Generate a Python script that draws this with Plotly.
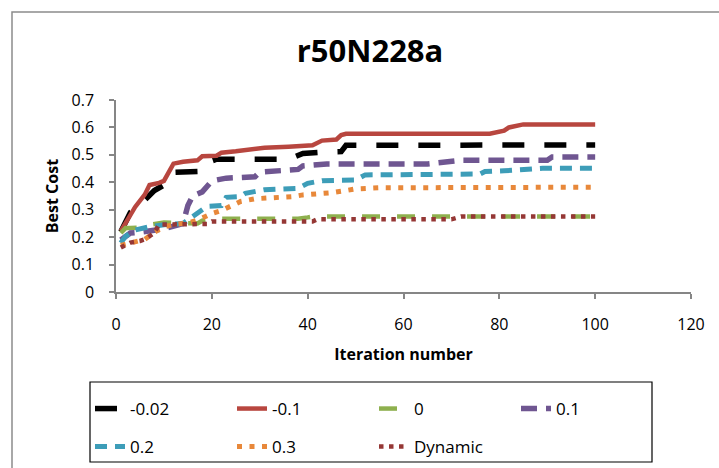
import plotly.graph_objects as go

# ---------------- data ----------------
x_m002 = [1, 2, 3, 5, 6, 8, 9, 10, 11, 12, 17, 18, 20, 21, 36, 38, 39, 43, 47, 48, 100]
y_m002 = [0.22, 0.26, 0.29, 0.31, 0.335, 0.37, 0.38, 0.39, 0.40, 0.436, 0.436, 0.44, 0.478,
          0.484, 0.484, 0.5, 0.505, 0.51, 0.512, 0.535, 0.536]

x_m01 = [1, 3, 4, 6, 7, 9, 10, 12, 14, 17, 18, 21, 22, 25, 28, 31, 36, 41, 43, 46, 47, 48,
         78, 80, 81, 82, 84, 85, 100]
y_m01 = [0.222, 0.285, 0.31, 0.355, 0.39, 0.398, 0.405, 0.468, 0.475, 0.48, 0.495, 0.497,
         0.508, 0.513, 0.52, 0.526, 0.53, 0.535, 0.552, 0.556, 0.572, 0.577, 0.577, 0.583,
         0.588, 0.6, 0.605, 0.611, 0.611]

x_0 = [1, 2, 3, 5, 7, 9, 10, 17, 18, 20, 38, 40, 41, 100]
y_0 = [0.215, 0.233, 0.233, 0.235, 0.245, 0.253, 0.253, 0.25, 0.26, 0.267, 0.267, 0.272,
       0.275, 0.275]

x_01 = [1, 2, 3, 5, 8, 10, 13, 14, 15, 16, 18, 20, 23, 25, 29, 30, 34, 38, 39, 43, 44, 65,
        68, 72, 90, 91, 100]
y_01 = [0.19, 0.2, 0.215, 0.218, 0.225, 0.23, 0.245, 0.25, 0.315, 0.35, 0.365, 0.405, 0.415,
        0.418, 0.42, 0.437, 0.44, 0.447, 0.46, 0.464, 0.467, 0.467, 0.472, 0.48, 0.48,
        0.492, 0.492]

x_02 = [1, 2, 4, 7, 10, 14, 16, 18, 19, 22, 23, 26, 27, 31, 34, 38, 40, 43, 50, 52, 76, 77,
        81, 85, 89, 100]
y_02 = [0.179, 0.203, 0.226, 0.238, 0.245, 0.25, 0.275, 0.30, 0.312, 0.315, 0.345, 0.348,
        0.36, 0.373, 0.377, 0.378, 0.396, 0.406, 0.408, 0.427, 0.43, 0.439, 0.442, 0.448,
        0.451, 0.451]

x_03 = [1, 3, 6, 8, 10, 12, 15, 17, 20, 22, 24, 26, 29, 32, 34, 37, 39, 42, 45, 48, 50, 55,
        100]
y_03 = [0.17, 0.18, 0.192, 0.218, 0.237, 0.246, 0.252, 0.262, 0.286, 0.297, 0.315, 0.33,
        0.34, 0.342, 0.345, 0.348, 0.354, 0.357, 0.362, 0.37, 0.376, 0.38, 0.382]

x_dyn = [1, 3, 5, 6, 8, 9, 19, 20, 41, 42, 70, 72, 100]
y_dyn = [0.162, 0.18, 0.186, 0.192, 0.216, 0.246, 0.248, 0.257, 0.257, 0.265, 0.265, 0.275,
         0.275]

series_names = ["-0.02", "-0.1", "0", "0.1", "0.2", "0.3", "Dynamic"]
x_ticks = [0, 20, 40, 60, 80, 100, 120]
y_ticks = [0, 0.1, 0.2, 0.3, 0.4, 0.5, 0.6, 0.7]

# ---------------- layout geometry (pixels) ----------------
W, H = 719, 468
L, R, T, B = 116, 28, 100, 176
PW, PH = W - L - R, H - T - B


def px_x(p):
    return (p - L) / PW


def px_y(p):
    return (H - B - p) / PH


FONT = "Open Sans"

styles = [
    dict(color="#000000", width=5.5, dash="22px,20px"),
    dict(color="#B8463F", width=4.5, dash="solid"),
    dict(color="#8EB04E", width=4.5, dash="18px,17px"),
    dict(color="#6F5691", width=5.5, dash="16px,9px"),
    dict(color="#3D9DB8", width=5, dash="12px,8px"),
    dict(color="#E8883A", width=5, dash="5px,7.5px"),
    dict(color="#953735", width=4.5, dash="4.5px,5.5px"),
]
xs = [x_m002, x_m01, x_0, x_01, x_02, x_03, x_dyn]
ys = [y_m002, y_m01, y_0, y_01, y_02, y_03, y_dyn]
legend_ids = ["legend", "legend", "legend", "legend", "legend2", "legend2", "legend2"]

fig = go.Figure()
for name, xv, yv, st, lg in zip(series_names, xs, ys, styles, legend_ids):
    fig.add_trace(go.Scatter(x=xv, y=yv, name=name, mode="lines", line=st, legend=lg))

axis_line = "#868686"
legend_common = dict(orientation="h", xref="container", x=90 / W, xanchor="left",
                     yref="container", yanchor="middle",
                     entrywidth=97, entrywidthmode="pixels", bgcolor="rgba(0,0,0,0)",
                     borderwidth=0, font=dict(family=FONT, size=17), itemwidth=30)
fig.update_layout(
    width=W, height=H,
    margin=dict(l=L, r=R, t=T, b=B, autoexpand=False),
    paper_bgcolor="white", plot_bgcolor="white",
    font=dict(family=FONT, size=16, color="#000000"),
    title=dict(text="<b>r50N228a</b>", font=dict(family=FONT, size=31, color="#000000"),
               xref="container", x=370 / W, xanchor="center",
               yref="container", y=1 - 51 / H, yanchor="middle"),
    xaxis=dict(range=[0, 120], tickvals=x_ticks, showgrid=False, zeroline=False,
               showline=True, linecolor=axis_line, linewidth=1.5,
               ticks="outside", ticklen=5, tickcolor=axis_line, tickwidth=1.5,
               ticklabelstandoff=12, tickfont=dict(size=16),
               title=dict(text="<b>Iteration number</b>", font=dict(size=16), standoff=15)),
    yaxis=dict(range=[0, 0.7], tickvals=y_ticks, showgrid=False, zeroline=False,
               showline=True, linecolor=axis_line, linewidth=1.5,
               ticks="outside", ticklen=5, tickcolor=axis_line, tickwidth=1.5,
               ticklabelstandoff=12, tickfont=dict(size=16),
               title=dict(text="<b>Best Cost</b>", font=dict(size=16), standoff=9)),
    legend=dict(legend_common, y=1 - 409 / H),
    legend2=dict(legend_common, y=1 - 447 / H),
    showlegend=True,
    shapes=[
        # outer chart border (extends past the window to the right and bottom)
        dict(type="rect", xref="paper", yref="paper", layer="below",
             x0=px_x(12), x1=px_x(760), y0=px_y(520), y1=px_y(12),
             line=dict(color="#8C8C8C", width=1.5), fillcolor="rgba(0,0,0,0)"),
        # legend frame
        dict(type="rect", xref="paper", yref="paper",
             x0=px_x(90), x1=px_x(652), y0=px_y(462), y1=px_y(382),
             line=dict(color="#000000", width=1.2), fillcolor="rgba(0,0,0,0)"),
    ],
)

fig.write_html("out.html")
